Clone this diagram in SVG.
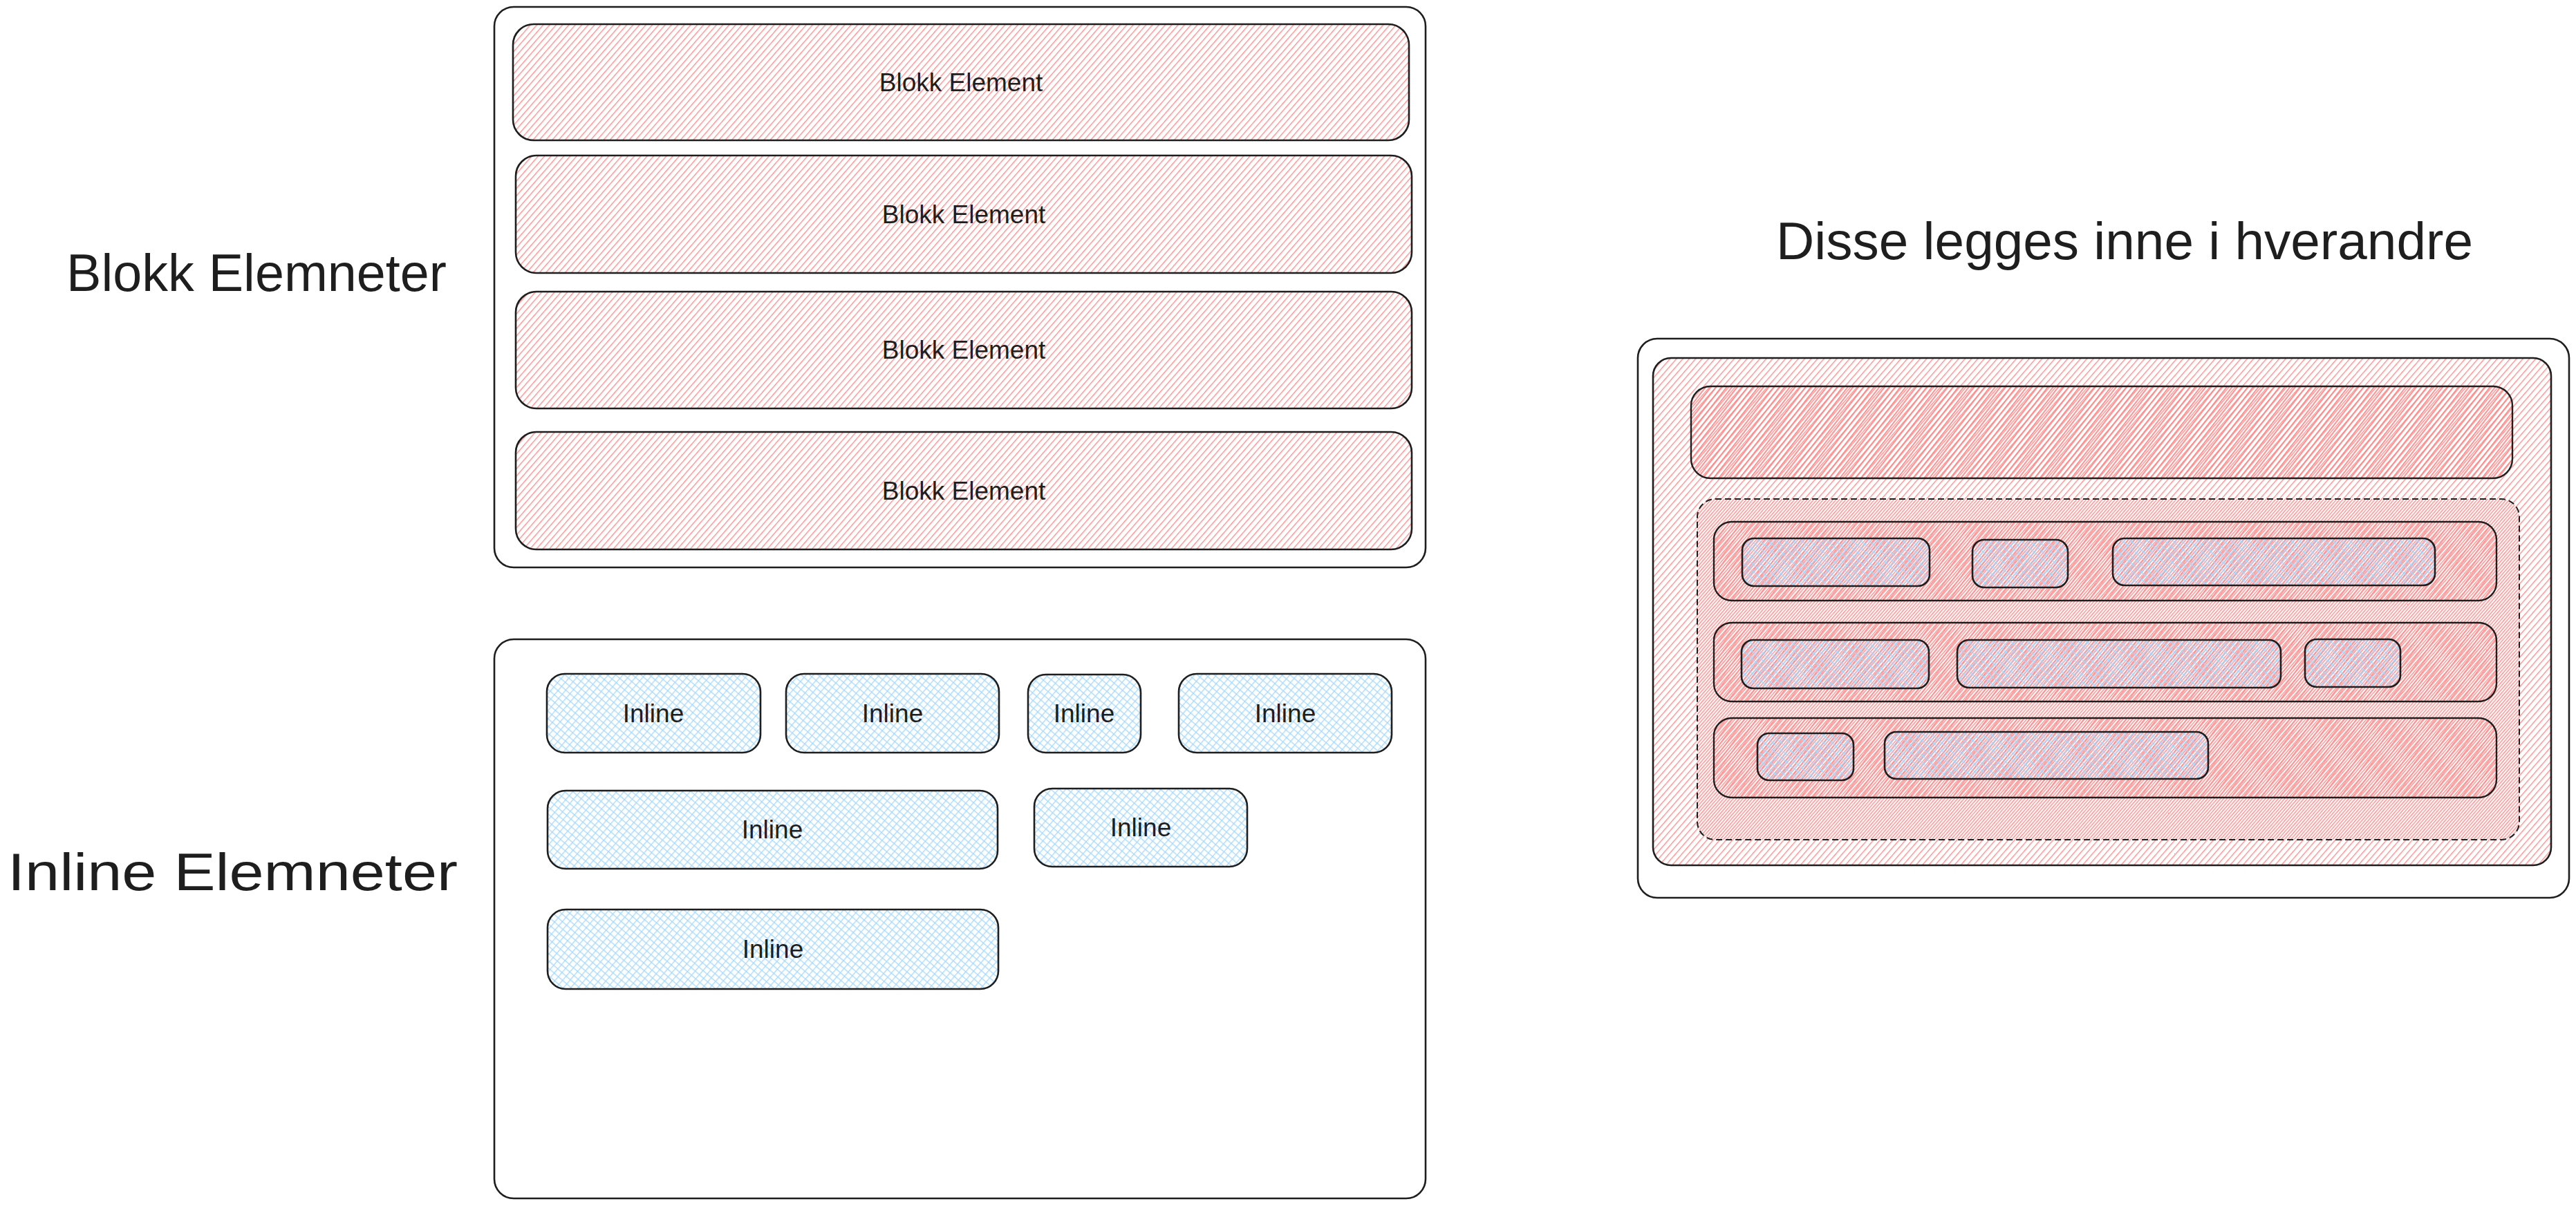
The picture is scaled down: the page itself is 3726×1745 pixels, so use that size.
<svg xmlns="http://www.w3.org/2000/svg" width="3726" height="1745" viewBox="0 0 3726 1745">
<defs>
<pattern id="hr" width="7" height="7" patternUnits="userSpaceOnUse" patternTransform="rotate(41)">
<line x1="0.7" y1="0" x2="0.7" y2="7" stroke="#ff8787" stroke-width="1.3"/>
</pattern>
<pattern id="hr2" width="7" height="7" patternUnits="userSpaceOnUse" patternTransform="rotate(41) translate(3.5,0)">
<line x1="0.7" y1="0" x2="0.7" y2="7" stroke="#ff8787" stroke-width="1.4"/>
</pattern>
<pattern id="hr3" width="7" height="7" patternUnits="userSpaceOnUse" patternTransform="rotate(37) translate(1.8,0)">
<line x1="0.7" y1="0" x2="0.7" y2="7" stroke="#ff8787" stroke-width="1.5"/>
</pattern>
<pattern id="hrTop" width="6" height="6" patternUnits="userSpaceOnUse" patternTransform="rotate(38) translate(2,0)">
<line x1="0.9" y1="0" x2="0.9" y2="6" stroke="#ff8787" stroke-width="1.8"/>
</pattern>
<pattern id="hb" width="8" height="8" patternUnits="userSpaceOnUse" patternTransform="rotate(41)">
<line x1="0.7" y1="0" x2="0.7" y2="8" stroke="#a5d8ff" stroke-width="1.3"/>
<line x1="0" y1="0.7" x2="8" y2="0.7" stroke="#a5d8ff" stroke-width="1.3"/>
</pattern>
</defs>
<style>
.c{fill:#ffffff;stroke:#1e1e1e;stroke-width:2.6}
.r{fill:url(#hr);stroke:#1e1e1e;stroke-width:2.6}
.r2{fill:url(#hr2);stroke:#1e1e1e;stroke-width:2.4}
.r3{fill:url(#hr3);stroke:#1e1e1e;stroke-width:2.4}
.rt{fill:url(#hrTop);stroke:#1e1e1e;stroke-width:2.4}
.d{fill:url(#hr2);stroke:#1e1e1e;stroke-width:2;stroke-dasharray:9 5}
.b{fill:url(#hb);stroke:#1e1e1e;stroke-width:2.6}
.bs{fill:url(#hb);stroke:#1e1e1e;stroke-width:2.6}
.lbl{font-family:"Liberation Sans",Arial,sans-serif;font-size:37px;fill:#1e1e1e;text-anchor:middle}
.h{font-family:"Liberation Sans",Arial,sans-serif;font-size:76px;fill:#1e1e1e}
</style>
<rect width="3726" height="1745" fill="#ffffff"/>

<g id="heading-blokk"><text class="h" x="96" y="421" textLength="550" lengthAdjust="spacingAndGlyphs">Blokk Elemneter</text></g>
<g id="heading-inline"><text class="h" x="11" y="1288" textLength="651" lengthAdjust="spacingAndGlyphs">Inline Elemneter</text></g>
<g id="heading-nested"><text class="h" x="2569" y="375" textLength="1008" lengthAdjust="spacingAndGlyphs">Disse legges inne i hverandre</text></g>

<g id="blokk-container"><rect class="c" x="715" y="10" width="1347" height="811" rx="28"/></g>
<g id="blokk-1"><rect class="r" x="742" y="35" width="1296" height="168" rx="30"/><text class="lbl" x="1390" y="132">Blokk Element</text></g>
<g id="blokk-2"><rect class="r" x="746" y="225" width="1296" height="170" rx="30"/><text class="lbl" x="1394" y="323">Blokk Element</text></g>
<g id="blokk-3"><rect class="r" x="746" y="422" width="1296" height="169" rx="30"/><text class="lbl" x="1394" y="519">Blokk Element</text></g>
<g id="blokk-4"><rect class="r" x="746" y="625" width="1296" height="170" rx="30"/><text class="lbl" x="1394" y="723">Blokk Element</text></g>

<g id="inline-container"><rect class="c" x="715" y="925" width="1347" height="809" rx="28"/></g>
<g id="inline-1"><rect class="b" x="791" y="975" width="309" height="114" rx="26"/><text class="lbl" x="945" y="1045">Inline</text></g>
<g id="inline-2"><rect class="b" x="1137" y="975" width="308" height="114" rx="26"/><text class="lbl" x="1291" y="1045">Inline</text></g>
<g id="inline-3"><rect class="b" x="1487" y="976" width="163" height="113" rx="26"/><text class="lbl" x="1568" y="1045">Inline</text></g>
<g id="inline-4"><rect class="b" x="1705" y="975" width="308" height="114" rx="26"/><text class="lbl" x="1859" y="1045">Inline</text></g>
<g id="inline-5"><rect class="b" x="792" y="1144" width="651" height="113" rx="26"/><text class="lbl" x="1117" y="1213">Inline</text></g>
<g id="inline-6"><rect class="b" x="1496" y="1141" width="308" height="113" rx="26"/><text class="lbl" x="1650" y="1210">Inline</text></g>
<g id="inline-7"><rect class="b" x="792" y="1316" width="652" height="115" rx="26"/><text class="lbl" x="1118" y="1386">Inline</text></g>

<g id="nested-outer"><rect class="c" x="2369" y="490" width="1347" height="809" rx="28"/></g>
<g id="nested-red"><rect class="r" x="2391" y="518" width="1299" height="734" rx="26"/></g>
<g id="nested-top"><rect class="rt" x="2446" y="559" width="1188" height="133" rx="28"/></g>
<g id="nested-dashed"><rect class="d" x="2455" y="722" width="1189" height="493" rx="26"/></g>
<g id="nested-row1"><rect class="r3" x="2479" y="755" width="1132" height="114" rx="26"/></g>
<g id="nested-row2"><rect class="r3" x="2479" y="901" width="1132" height="114" rx="26"/></g>
<g id="nested-row3"><rect class="r3" x="2479" y="1039" width="1132" height="115" rx="26"/></g>
<g id="nested-b1"><rect class="bs" x="2520" y="779" width="271" height="69" rx="17"/></g>
<g id="nested-b2"><rect class="bs" x="2853" y="781" width="138" height="69" rx="17"/></g>
<g id="nested-b3"><rect class="bs" x="3056" y="779" width="466" height="68" rx="17"/></g>
<g id="nested-b4"><rect class="bs" x="2519" y="926" width="271" height="70" rx="17"/></g>
<g id="nested-b5"><rect class="bs" x="2831" y="926" width="468" height="69" rx="17"/></g>
<g id="nested-b6"><rect class="bs" x="3334" y="925" width="138" height="69" rx="17"/></g>
<g id="nested-b7"><rect class="bs" x="2542" y="1061" width="139" height="68" rx="17"/></g>
<g id="nested-b8"><rect class="bs" x="2726" y="1059" width="468" height="68" rx="17"/></g>

<g id="connectors"/>
</svg>
